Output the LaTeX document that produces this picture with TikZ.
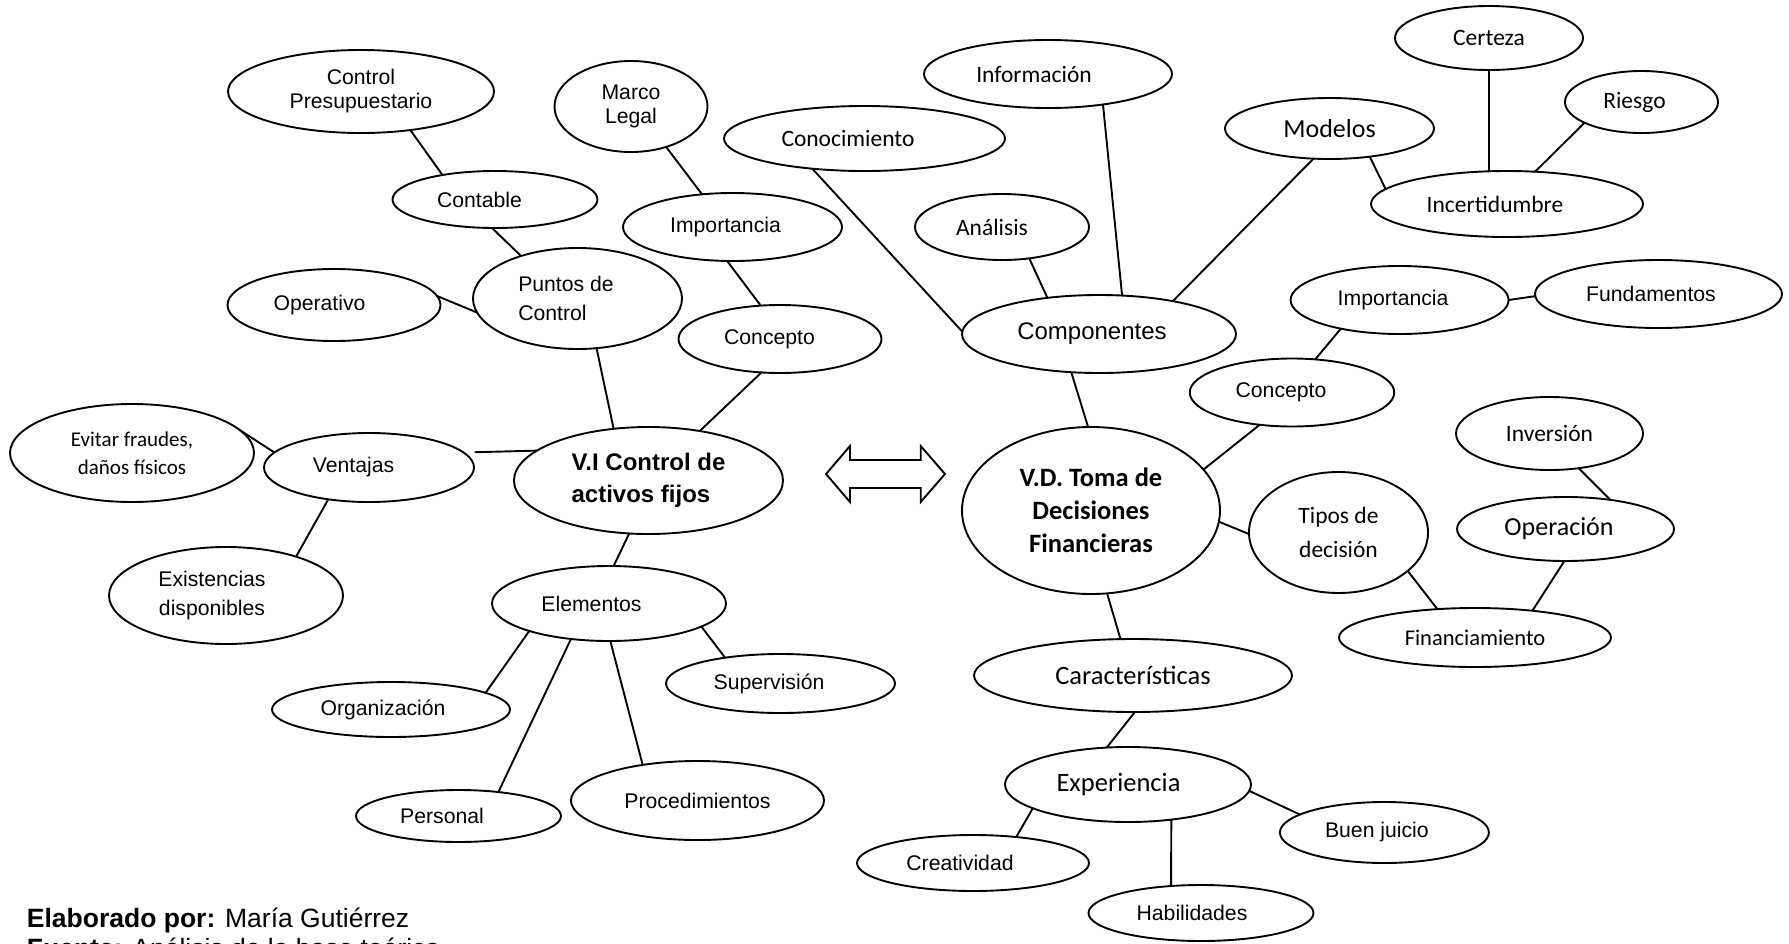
\documentclass[tikz,border=0pt]{standalone}
\usepackage{fontspec}
\setmainfont{Liberation Sans}
\newfontfamily\calib{Carlito}
\usetikzlibrary{shapes.geometric}
\newcommand\padr[1]{\rule{#1pt}{0pt}}
\begin{document}
\begin{tikzpicture}[x=1pt,y=-1pt,
  ell/.style={draw, ellipse, line width=1.9pt, inner sep=0pt, outer sep=0pt},
  sz/.style 2 args={minimum width=#1pt, minimum height=#2pt},
  fa/.style={font=\fontsize{21.2}{29}\selectfont},
  fc/.style={font=\fontsize{23.5}{34}\selectfont\calib},
  con/.style={line width=1.9pt},
  txt/.style={anchor=base west, inner sep=0pt, font=\fontsize{26.5}{30}\selectfont}
]
\useasboundingbox (0,0) rectangle (1789,943);
\clip (0,0) rectangle (1789,943);

% left side
\node[ell,sz={266}{83},font=\fontsize{21.2}{24}\selectfont,align=center] (cp) at (361,91.5) {Control\\Presupuestario};
\node[ell,sz={205}{57},fa] (cont) at (495,199.5) {Contable\padr{31}};
\node[ell,sz={213}{72},fa] (oper) at (334,305) {Operativo\padr{29}};
\node[ell,sz={209}{101},fa,align=left] (pc) at (577.5,298.5) {Puntos de\padr{23}\\Control};
\node[ell,sz={244}{98},font=\fontsize{21}{28}\selectfont\calib,align=center] (evit) at (132,453) {Evitar fraudes,\\daños físicos};
\node[ell,sz={210}{69},fa] (vent) at (369,467.5) {Ventajas\padr{31}};
\node[ell,sz={234}{97},fa,align=center] (exis) at (226,595.5) {Existencias\padr{28}\\disponibles\padr{28}};
\node[ell,sz={269}{107},font=\fontsize{24}{32}\selectfont\bfseries,align=left] (vi) at (648.5,480.5) {V.I Control de\\activos fijos};
\node[ell,sz={234}{75},fa] (elem) at (609,603.5) {Elementos\padr{35}};
\node[ell,sz={238}{55},fa] (org) at (391,709.5) {Organización\padr{16}};
\node[ell,sz={205}{52},fa] (pers) at (458.5,816) {Personal\padr{33}};
\node[ell,sz={253}{79},fa] (proc) at (697.5,800.5) {Procedimientos};
\node[ell,sz={229}{59},fa] (sup) at (780.5,683.5) {Supervisión\padr{23}};
\node[ell,sz={153}{91},font=\fontsize{21.2}{24}\selectfont,align=center] (marco) at (631,106.5) {Marco\\Legal};
\node[ell,sz={219}{68},fa] (impL) at (732.5,227) {Importancia\padr{14}};
\node[ell,sz={203}{68},fa] (concL) at (780,339) {Concepto\padr{21}};

% right side
\node[ell,sz={281}{65},fc] (conoc) at (864.5,138.5) {Conocimiento\padr{33}};
\node[ell,sz={248}{68},fc] (info) at (1048,74) {Información\padr{28}};
\node[ell,sz={174}{66},fc] (anal) at (1002,227) {Análisis\padr{20}};
\node[ell,sz={274}{78},font=\fontsize{24}{29}\selectfont] (comp) at (1099,334) {Componentes\padr{14}};
\node[ell,sz={209}{61},font=\fontsize{26}{30}\selectfont\calib] (model) at (1329.5,128.5) {Modelos};
\node[ell,sz={188}{64},fc] (cert) at (1489,38) {Certeza};
\node[ell,sz={153}{62},fc] (ries) at (1641.5,102) {Riesgo\padr{14}};
\node[ell,sz={272}{66},fc] (incert) at (1507,204) {Incertidumbre\padr{24}};
\node[ell,sz={218}{68},fa] (impR) at (1399.6,300) {Importancia\padr{13}};
\node[ell,sz={247}{68},fa] (fund) at (1658.5,294) {Fundamentos\padr{15}};
\node[ell,sz={204.5}{68},fa] (concR) at (1292,392.5) {Concepto\padr{22}};
\node[ell,sz={258}{167},font=\fontsize{26.5}{33}\selectfont\calib\bfseries,align=center] (vd) at (1091,510.5) {V.D. Toma de\\Decisiones\\Financieras};
\node[ell,sz={179}{121},fc,align=center] (tipos) at (1338.5,532.5) {Tipos de\\decisión};
\node[ell,sz={187}{73},fc] (inv) at (1549.5,433.5) {Inversión};
\node[ell,sz={217}{64},font=\fontsize{26}{30}\selectfont\calib] (oper2) at (1565.5,529) {Operación\padr{13}};
\node[ell,sz={272}{59},font=\fontsize{22.5}{27}\selectfont\calib] (fin) at (1475,637.5) {Financiamiento};
\node[ell,sz={318}{73},font=\fontsize{26.5}{31}\selectfont\calib] (car) at (1133,675.5) {Características};
\node[ell,sz={246}{75},font=\fontsize{26.5}{31}\selectfont\calib] (exper) at (1128,784.5) {Experiencia\padr{19}};
\node[ell,sz={232}{56},fa] (creat) at (973,863) {Creatividad\padr{26}};
\node[ell,sz={225}{56},fa] (hab) at (1201,913) {Habilidades\padr{18}};
\node[ell,sz={209}{61},fa] (buen) at (1384.4,832.5) {Buen juicio\padr{15}};

% connectors left
\draw[con] (cp.-38.2) -- (cont.155.5);
\draw[con] (cont.-96) -- (pc.143.2);
\draw[con] (oper.5.4) -- (pc.188.6);
\draw[con] (pc.-69.5) -- (vi.124.1);
\draw[con] (marco.-49.1) -- (impL.133.7);
\draw[con] (impL.-99.2) -- (concL.120);
\draw[con] (concL.-119.2) -- (vi.44.2);
\draw[con] (evit.12.1) -- (vent.171.2);
\draw[con,shorten <=11pt] (vent.9.5) -- (vi.165.8);
\draw[con] (vent.-142.2) -- (exis.29.5);
\draw[con] (vi.-110.9) -- (elem.83.9);
\draw[con] (elem.-161.9) -- (org.10.8);
\draw[con] (elem.-137.7) -- (pers.31.8);
\draw[con] (elem.-88.4) -- (proc.147.9);
\draw[con] (elem.-14) -- (sup.155.3);

% connectors right
\draw[con] (conoc.-150.1) -- (comp.179.2);
\draw[con] (info.-29.3) -- (comp.59.5);
\draw[con] (anal.-49.8) -- (comp.145.5);
\draw[con] (model.-118.3) -- (comp.24.6);
\draw[con] (model.-35.4) -- (incert.173.6);
\draw[con] (cert.south) -- (cert.south |- incert.north);
\draw[con] (ries.-160.9) -- (incert.49.7);
\draw[con] (comp.-126.6) -- (vd.92.7);
\draw[con] (impR.-0.5) -- (fund.181.4);
\draw[con] (impR.-154.5) -- (concR.55.9);
\draw[con] (concR.-135.4) -- (vd.20.6);
\draw[con] (vd.-5.5) -- (tipos.181);
\draw[con] (inv.-50.3) -- (oper2.33.7);
\draw[con] (tipos.-29.4) -- (fin.143.9);
\draw[con] (oper2.-92.6) -- (fin.25.5);
\draw[con] (vd.-79.8) -- (car.109.8);
\draw[con] (car.-87) -- (exper.120.4);
\draw[con] (exper.-166.5) -- (creat.31.5);
\draw[con] (exper.-39.5) -- (hab.138.3);
\draw[con] (exper.-3.5) -- (buen.168.3);

% double arrow
\draw[line width=1.9pt, line join=miter] (826,474) -- (850,446) -- (850,460) -- (920.7,460) -- (920.7,446) -- (945,474) -- (920.7,502) -- (920.7,488) -- (850,488) -- (850,502) -- cycle;

% footer
\node[txt] (elab) at (26.7,927) {\textbf{Elaborado por:} María Gutiérrez};
\node[txt] (fuente) at (26.7,957.5) {\textbf{Fuente:} Análisis de la base teórica};
\end{tikzpicture}
\end{document}
